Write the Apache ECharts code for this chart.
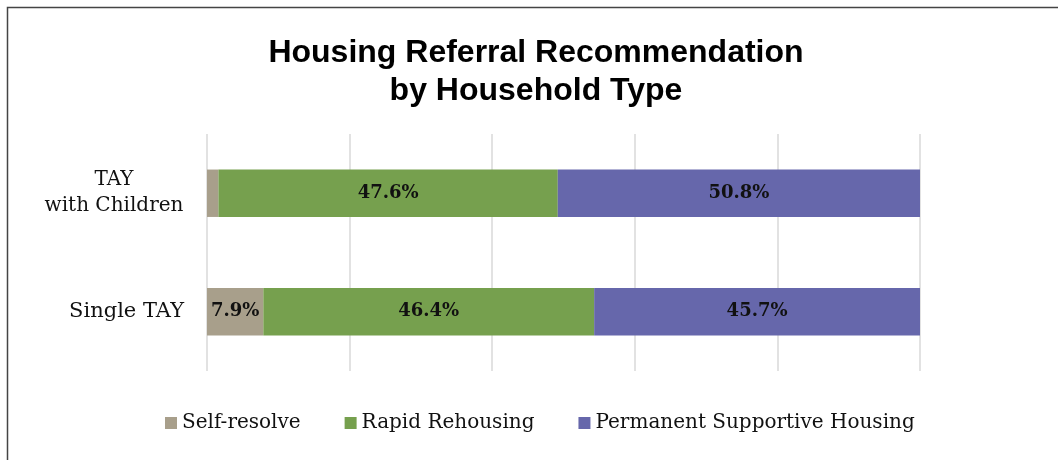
<!DOCTYPE html>
<html>
<head>
<meta charset="utf-8">
<script src="https://cdn.jsdelivr.net/npm/echarts@6/dist/echarts.min.js"></script>
<style>
  body { margin: 0; background: #fff; }
  #chart { width: 1058px; height: 460px; }
</style>
</head>
<body>
<div id="chart"></div>
<script>
const householdTypes = ['TAY\nwith Children', 'Single TAY'];
const selfResolve = [1.6, 7.9];
const rapidRehousing = [47.6, 46.4];
const permanentSupportive = [50.8, 45.7];
const colors = ['#a89f8b', '#76a04e', '#6667ab'];

const chart = echarts.init(document.getElementById('chart'));

function barSeries(name, data) {
    return {
        name: name,
        type: 'bar',
        stack: 'total',
        barWidth: '40%',
        data: data,
        label: {
            show: true,
            position: 'inside',
            fontFamily: 'DejaVu Serif',
            fontWeight: 'bold',
            fontSize: 18,
            color: '#111',
            // the small self-resolve slice has no label
            formatter: (p) => p.value >= 5 ? p.value.toFixed(1) + '%' : ''
        }
    };
}

chart.setOption({
    color: colors,
    title: {
        text: 'Housing Referral Recommendation\nby Household Type',
        left: 531,
        textAlign: 'center',
        top: 29,
        textStyle: {
            fontFamily: 'Liberation Sans',
            fontWeight: 'bold',
            fontSize: 32,
            lineHeight: 38,
            color: '#000'
        }
    },
    graphic: [{
        type: 'rect',
        shape: { x: 7.5, y: 7.5, width: 1060, height: 470 },
        style: { fill: 'none', stroke: '#444', lineWidth: 1.5 },
        silent: true
    }],
    legend: {
        bottom: 22,
        left: 160,
        itemWidth: 12,
        itemHeight: 12,
        itemGap: 44,
        icon: 'rect',
        textStyle: {
            fontFamily: 'DejaVu Serif',
            fontSize: 20,
            color: '#111'
        },
        data: ['Self-resolve', 'Rapid Rehousing', 'Permanent Supportive Housing']
    },
    grid: {
        left: 207,
        right: 138,
        top: 134,
        height: 237,
        containLabel: false
    },
    xAxis: {
        type: 'value',
        min: 0,
        max: 100,
        interval: 20,
        axisLabel: { show: false },
        axisLine: { show: false },
        axisTick: { show: false },
        splitLine: { show: true, lineStyle: { color: '#d9d9d9', width: 1.5 } }
    },
    yAxis: {
        type: 'category',
        inverse: true,
        data: householdTypes,
        axisLine: { show: false },
        axisTick: { show: false },
        axisLabel: {
            align: 'right',
            margin: 23,
            fontFamily: 'DejaVu Serif',
            fontSize: 21,
            lineHeight: 26,
            color: '#111',
            formatter: (v) => v.indexOf('\n') >= 0
                ? v.split('\n').map((s) => '{c|' + s + '}').join('\n')
                : v,
            rich: {
                c: { width: 140, align: 'center', fontFamily: 'DejaVu Serif', fontSize: 20, lineHeight: 26, color: '#111' }
            }
        }
    },
    series: [
        barSeries('Self-resolve', selfResolve),
        barSeries('Rapid Rehousing', rapidRehousing),
        barSeries('Permanent Supportive Housing', permanentSupportive)
    ]
});
</script>
</body>
</html>
